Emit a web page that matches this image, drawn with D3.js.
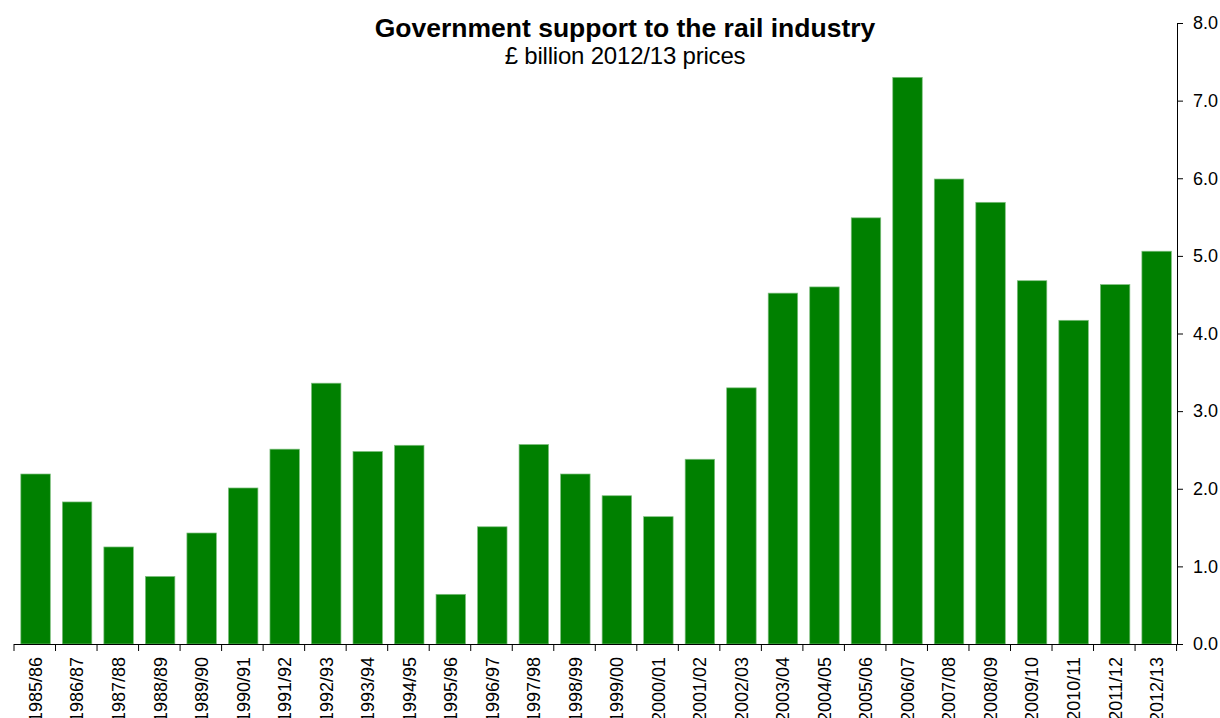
<!DOCTYPE html>
<html>
<head>
<meta charset="utf-8">
<script src="https://cdn.jsdelivr.net/npm/d3@7"></script>
<style>
  body { margin: 0; background: #fff; }
  text { font-family: "Liberation Sans", Arial, sans-serif; fill: #000; }
</style>
</head>
<body>
<div id="chart"></div>
<script>
// data
var years = ["1985/86", "1986/87", "1987/88", "1988/89", "1989/90", "1990/91", "1991/92",
  "1992/93", "1993/94", "1994/95", "1995/96", "1996/97", "1997/98", "1998/99", "1999/00",
  "2000/01", "2001/02", "2002/03", "2003/04", "2004/05", "2005/06", "2006/07", "2007/08",
  "2008/09", "2009/10", "2010/11", "2011/12", "2012/13"];
var support = [2.19, 1.83, 1.25, 0.87, 1.43, 2.01, 2.51, 3.36, 2.48, 2.56, 0.64, 1.51, 2.57,
  2.19, 1.91, 1.64, 2.38, 3.30, 4.52, 4.60, 5.49, 7.30, 5.99, 5.69, 4.68, 4.17, 4.63, 5.06];
var yTicks = [0, 1, 2, 3, 4, 5, 6, 7, 8];

var svgWidth = 1220;
var svgHeight = 718;

var margin = { top: 23, right: 43, bottom: 74, left: 14 };
var width = svgWidth - margin.left - margin.right;
var height = svgHeight - margin.top - margin.bottom;

var svg = d3.select("#chart")
  .append("svg")
  .attr("width", svgWidth)
  .attr("height", svgHeight);

var chartGroup = svg.append("g")
  .attr("transform", `translate(${margin.left}, ${margin.top})`);

var xScale = d3.scaleBand()
  .domain(years)
  .range([0, width])
  .paddingInner(0.29)
  .paddingOuter(0.15);

// band boundaries for the x ticks
var step = xScale.step();
var yScale = d3.scaleLinear()
  .domain([0, 8])
  .range([height, 0]);

// bars
chartGroup.selectAll("rect.bar")
  .data(years)
  .enter()
  .append("rect")
  .attr("class", "bar")
  .attr("x", d => xScale(d) + 0.6)
  .attr("y", (d, i) => yScale(support[i]))
  .attr("width", xScale.bandwidth())
  .attr("height", (d, i) => height - yScale(support[i]))
  .attr("fill", "#008000")
  .attr("stroke", "#7fbf7f")
  .attr("stroke-width", 0.7);

// x axis: line with ticks at category boundaries
var xAxis = chartGroup.append("g")
  .attr("transform", `translate(0, ${height})`);
xAxis.append("line")
  .attr("x1", 0).attr("x2", width)
  .attr("y1", 0.5).attr("y2", 0.5)
  .attr("stroke", "#000");
xAxis.selectAll("line.tick")
  .data(d3.range(years.length + 1))
  .enter()
  .append("line")
  .attr("class", "tick")
  .attr("x1", i => i * step).attr("x2", i => i * step)
  .attr("y1", 0).attr("y2", 7)
  .attr("stroke", "#000");
xAxis.selectAll("text")
  .data(years)
  .enter()
  .append("text")
  .attr("transform", d => `translate(${xScale(d) + xScale.bandwidth() / 2 + 7}, 13) rotate(-90)`)
  .attr("text-anchor", "end")
  .style("font-size", "18px")
  .text(d => d);

// y axis on the right
var yAxis = chartGroup.append("g")
  .attr("transform", `translate(${width}, 0)`)
  .call(d3.axisRight(yScale)
    .tickValues(yTicks)
    .tickSize(6)
    .tickPadding(10)
    .tickFormat(d3.format(".1f")));
yAxis.select(".domain").attr("stroke", "#000").attr("d", `M0.5,0V${height}`);
yAxis.selectAll(".tick line").attr("stroke", "#000");
yAxis.selectAll(".tick text")
  .style("font-size", "18px")
  .style("font-family", "'Liberation Sans', Arial, sans-serif")
  .attr("fill", "#000");

// titles
svg.append("text")
  .attr("x", 625)
  .attr("y", 37)
  .attr("text-anchor", "middle")
  .style("font-size", "26.5px")
  .style("font-weight", "bold")
  .text("Government support to the rail industry");

svg.append("text")
  .attr("x", 625)
  .attr("y", 64)
  .attr("text-anchor", "middle")
  .style("font-size", "24px")
  .style("letter-spacing", "-0.2px")
  .text("£ billion 2012/13 prices");
</script>
</body>
</html>
